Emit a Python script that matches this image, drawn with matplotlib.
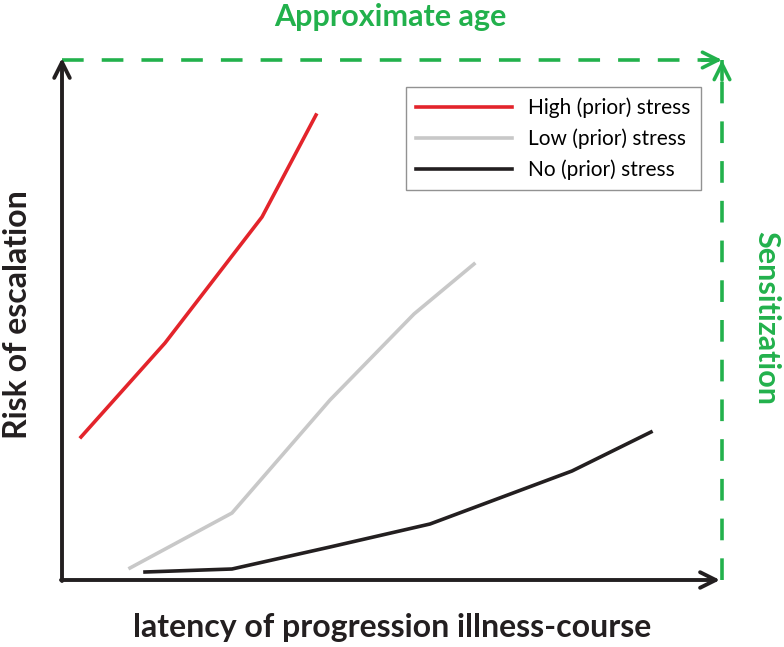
import matplotlib.pyplot as plt

# data in chart units: x = latency, y = risk (origin at the axes corner)
high_x = [19, 103, 200, 254]
high_y = [143, 237, 363, 465]
low_x = [68, 170, 268, 352, 412]
low_y = [12, 67, 180, 266, 316]
none_x = [83, 170, 268, 368, 510, 589]
none_y = [8, 11, 33, 56, 109, 148]

labels = ["High (prior) stress", "Low (prior) stress", "No (prior) stress"]
x_end = 660
y_end = 520

green = "#22b14c"
dark = "#231f20"

plt.rcParams["font.family"] = ["Lato", "DejaVu Sans"]

fig = plt.figure(figsize=(7.84, 6.47), dpi=100)
ax = fig.add_axes([0, 0, 1, 1])
ax.set_xlim(-62, 722)
ax.set_ylim(-67, 580)
ax.axis("off")

ax.plot(high_x, high_y, color="#e3242b", lw=2.6, label=labels[0])
ax.plot(low_x, low_y, color="#c8c8c8", lw=2.6, label=labels[1])
ax.plot(none_x, none_y, color=dark, lw=2.6, label=labels[2])

# black axes with open arrow heads
arrow = dict(arrowstyle="->", color=dark, lw=2.8, mutation_scale=28,
             shrinkA=0, shrinkB=0)
ax.annotate("", xy=(0, y_end + 2), xytext=(0, -1), arrowprops=arrow)
ax.annotate("", xy=(x_end - 2, 0), xytext=(-1, 0), arrowprops=arrow)

# green dashed age / sensitization arrows
ax.plot([0, x_end], [y_end, y_end], color=green, lw=2.6, dashes=(6, 5))
ax.plot([x_end, x_end], [0, y_end], color=green, lw=2.6, dashes=(6, 5))
garrow = dict(arrowstyle="->", color=green, lw=2.6, mutation_scale=28,
              shrinkA=0, shrinkB=0)
ax.annotate("", xy=(x_end, y_end), xytext=(x_end - 20, y_end), arrowprops=garrow)
ax.annotate("", xy=(x_end, y_end), xytext=(x_end, y_end - 20), arrowprops=garrow)

ax.text(328, 563, "Approximate age", color=green, fontsize=22, fontweight="bold",
        ha="center", va="center")
ax.text(704, 262, "Sensitization", color=green, fontsize=22, fontweight="bold",
        ha="center", va="center", rotation=-90)
ax.text(-44, 265, "Risk of escalation", color=dark, fontsize=23, fontweight="bold",
        ha="center", va="center", rotation=90)
ax.text(330, -47, "latency of progression illness-course", color=dark, fontsize=23,
        fontweight="bold", ha="center", va="center")

leg = ax.legend(loc="upper left", bbox_to_anchor=(406 / 784, 1 - 87 / 647),
                fontsize=15, frameon=True, fancybox=False, handlelength=4.6,
                handletextpad=0.75, labelspacing=0.5, borderpad=0.5,
                borderaxespad=0)
leg.get_frame().set_edgecolor("#777777")
leg.get_frame().set_linewidth(1.0)

fig.savefig("out.png", dpi=100)
